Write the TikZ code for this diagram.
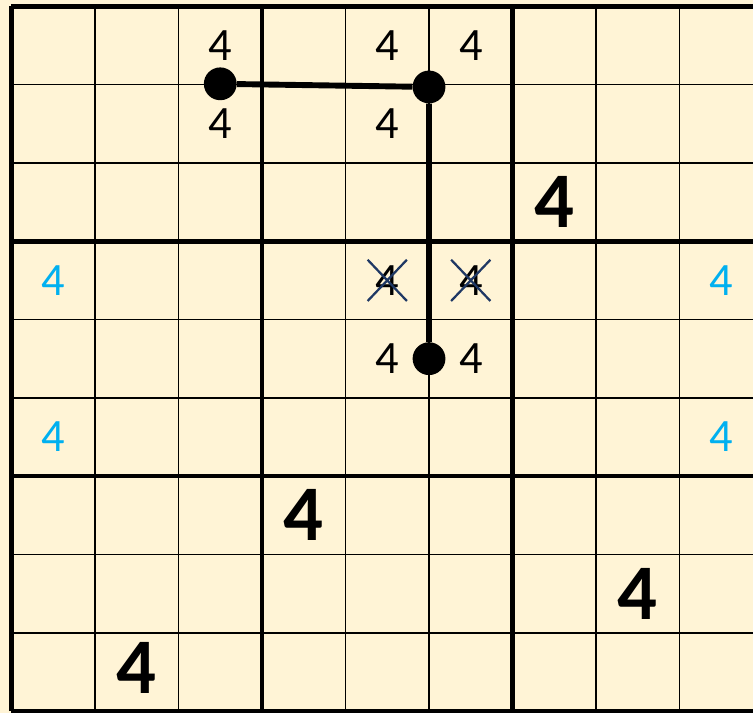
\documentclass[tikz,border=0pt]{standalone}
\usepackage{fontspec}
\setmainfont{Carlito}
\usetikzlibrary{positioning, shapes.misc}
\definecolor{paper}{RGB}{255,244,214}
\definecolor{cand}{RGB}{0,176,240}
\definecolor{strike}{RGB}{31,56,100}

\begin{document}
\begin{tikzpicture}[
  x=2.0875cm, y=1.9575cm,
  cellline/.style={line width=1.1pt},
  boxline/.style={line width=3.3pt},
  pencil/.style={font=\fontsize{33}{33}\selectfont, inner sep=0},
  bluepencil/.style={pencil, text=cand},
  struck/.style={cross out, draw=strike, line width=1.6pt, minimum width=0.925cm, minimum height=0.975cm},
  given/.style={font=\fontsize{56}{56}\selectfont\bfseries, inner sep=0},
  chaindot/.style={circle, fill, inner sep=0, minimum size=0.82cm},
  chain/.style={line width=4.2pt},
]
  \useasboundingbox (-0.1377,-0.0255) rectangle (8.880,9.0805);
  \fill[paper] (-0.1377,-0.0255) rectangle (8.880,9.0805);
  \begin{scope}
    \clip (-0.1377,-0.0255) rectangle (8.880,9.0805);
    \foreach \i in {1,2,4,5,7,8} {
      \draw[cellline] (\i,0) -- (\i,9);
      \draw[cellline] (0,\i) -- (9,\i);
    }
    \foreach \i in {0,3,6,9} {
      \draw[boxline] (\i,0) -- (\i,9);
      \draw[boxline] (0,\i) -- (9,\i);
    }
  \end{scope}

  \node[pencil] (p13) at (2.5,8.5) {4};
  \node[pencil] (p23) at (2.5,7.5) {4};
  \node[pencil] (p15) at (4.5,8.5) {4};
  \node[pencil] (p16) at (5.5,8.5) {4};
  \node[pencil] (p25) at (4.5,7.5) {4};
  \node[pencil, struck] (p45) at (4.5,5.5) {4};
  \node[pencil, struck] (p46) at (5.5,5.5) {4};
  \node[pencil] (p55) at (4.5,4.5) {4};
  \node[pencil] (p56) at (5.5,4.5) {4};

  \node[bluepencil] (b41) at (0.5,5.5) {4};
  \node[bluepencil] (b61) at (0.5,3.5) {4};
  \node[bluepencil] (b49) at (8.5,5.5) {4};
  \node[bluepencil] (b69) at (8.5,3.5) {4};

  \node[given] (g37) at (6.5,6.5) {4};
  \node[given] (g74) at (3.5,2.5) {4};
  \node[given] (g88) at (7.5,1.5) {4};
  \node[given] (g92) at (1.5,0.55) {4};

  \node[chaindot] (d1) at (2.5,8.01) {};
  \node[chaindot] (d2) at (5,7.97) {};
  \node[chaindot] (d3) at (5,4.5) {};
  \draw[chain] (d1) -- (d2) -- (d3);
\end{tikzpicture}
\end{document}
